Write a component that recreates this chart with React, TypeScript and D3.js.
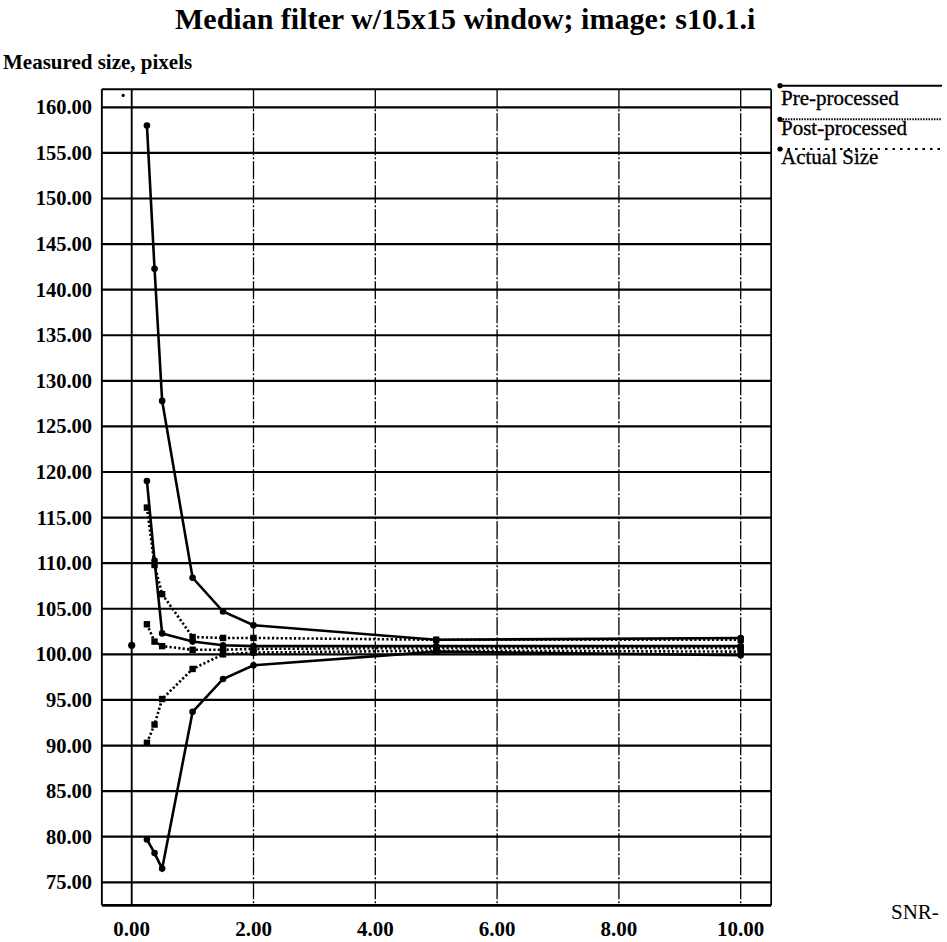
import React from "react";
import * as d3 from "d3";

const titleText = "Median filter w/15x15 window; image: s10.1.i";
const yAxisTitle = "Measured size, pixels";
const xAxisTitle = "SNR";
const legendLabels = ["Pre-processed", "Post-processed", "Actual Size"];

const xTicks = [0, 2, 4, 6, 8, 10];
const yTicks = [75, 80, 85, 90, 95, 100, 105, 110, 115, 120, 125, 130, 135, 140, 145, 150, 155, 160];

// Pre-processed (solid)
const preUpperSnr = [0.25, 0.375, 0.5, 1.0, 1.5, 2.0, 5.0, 10.0];
const preUpperSize = [158.0, 142.3, 127.8, 108.4, 104.7, 103.2, 101.6, 101.8];
const preMiddleSnr = [0.25, 0.375, 0.5, 1.0, 1.5, 2.0, 5.0, 10.0];
const preMiddleSize = [119.0, 110.3, 102.3, 101.4, 101.0, 100.9, 100.9, 100.9];
const preLowerSnr = [0.25, 0.375, 0.5, 1.0, 1.5, 2.0, 5.0, 10.0];
const preLowerSize = [79.7, 78.2, 76.5, 93.7, 97.3, 98.8, 100.3, 99.9];

// Post-processed (dotted)
const postUpperSnr = [0.25, 0.375, 0.5, 1.0, 1.5, 2.0, 5.0, 10.0];
const postUpperSize = [116.1, 109.8, 106.6, 101.9, 101.8, 101.8, 101.6, 101.6];
const postMiddleSnr = [0.25, 0.375, 0.5, 1.0, 1.5, 2.0, 5.0, 10.0];
const postMiddleSize = [103.3, 101.4, 100.9, 100.5, 100.5, 100.6, 100.7, 100.7];
const postLowerSnr = [0.25, 0.375, 0.5, 1.0, 1.5, 2.0, 5.0, 10.0];
const postLowerSize = [90.3, 92.3, 95.1, 98.4, 100.0, 100.2, 100.4, 100.3];

// Actual size
const actualSnr = [0.0];
const actualSize = [101.0];

// stray speck in the plot corner
const speckSnr = [-0.14];
const speckSize = [161.3];

const W = 947;
const H = 942;
const x = d3.scaleLinear().domain([0, 10]).range([131.7, 740.7]);
const y = d3.scaleLinear().domain([75, 160]).range([882.3, 107.3]);
const xMin = -0.49;
const xMax = 10.5;
const yMin = 72.48;
const yMax = 161.97;

type Pt = [number, number];
const zip = (a: number[], b: number[]): Pt[] => a.map((v, i) => [v, b[i]] as Pt);

const preSeries = [
  zip(preUpperSnr, preUpperSize),
  zip(preMiddleSnr, preMiddleSize),
  zip(preLowerSnr, preLowerSize),
];
const postSeries = [
  zip(postUpperSnr, postUpperSize),
  zip(postMiddleSnr, postMiddleSize),
  zip(postLowerSnr, postLowerSize),
];
const actualSeries = zip(actualSnr, actualSize);
const speck = zip(speckSnr, speckSize);

const line = d3
  .line<Pt>()
  .x((d) => x(d[0]))
  .y((d) => y(d[1]));

const FONT = "'Liberation Serif', 'DejaVu Serif', serif";

export default function App() {
  const left = x(xMin);
  const right = x(xMax);
  const top = y(yMax);
  const bottom = y(yMin);
  const legendX0 = 780;
  const legendX1 = 942;
  const legendYs = [85.7, 119.3, 149];
  const legendTextYs = [105, 135, 164];

  return (
    <svg
      width={W}
      height={H}
      style={{ position: "absolute", left: 0, top: 0, background: "#fff" }}
      fontFamily={FONT}
    >
      <rect x={0} y={0} width={W} height={H} fill="#fff" />
      {/* title */}
      <text x={175} y={29} fontSize={30} fontWeight="bold" fill="#000">
        {titleText}
      </text>
      <text x={3} y={69} fontSize={21} fontWeight="bold" fill="#000">
        {yAxisTitle}
      </text>

      {/* horizontal grid lines */}
      {yTicks.map((t) => (
        <line key={"h" + t} x1={left} x2={right} y1={y(t)} y2={y(t)} stroke="#000" strokeWidth={2.2} />
      ))}
      {/* vertical grid lines */}
      {xTicks.map((t) => (
        <line
          key={"v" + t}
          x1={x(t)}
          x2={x(t)}
          y1={top}
          y2={bottom}
          stroke="#000"
          strokeWidth={t === 0 ? 1.9 : 1.3}
          strokeDasharray={t === 0 ? undefined : "18 2 2 2"}
        />
      ))}
      {/* frame */}
      <line x1={left} x2={right} y1={top} y2={top} stroke="#000" strokeWidth={2} />
      <line x1={left} x2={right} y1={bottom} y2={bottom} stroke="#000" strokeWidth={2.8} />
      <line x1={left} x2={left} y1={top} y2={bottom} stroke="#000" strokeWidth={1.9} />
      <line x1={right} x2={right} y1={top} y2={bottom} stroke="#000" strokeWidth={1.7} />

      {/* y tick labels */}
      {yTicks.map((t) => (
        <text
          key={"yl" + t}
          x={92}
          y={y(t) + 7}
          textAnchor="end"
          fontSize={20.5}
          fontWeight="bold"
          fill="#000"
        >
          {t.toFixed(2)}
        </text>
      ))}
      {/* x tick labels */}
      {xTicks.map((t) => (
        <text
          key={"xl" + t}
          x={x(t)}
          y={936}
          textAnchor="middle"
          fontSize={21}
          fontWeight="bold"
          fill="#000"
        >
          {t.toFixed(2)}
        </text>
      ))}
      <text x={891} y={919} fontSize={21} fill="#000">
        {xAxisTitle + "-"}
      </text>

      {/* post-processed lines */}
      {postSeries.map((s, i) => (
        <g key={"post" + i}>
          <path d={line(s) || ""} fill="none" stroke="#000" strokeWidth={2.6} strokeDasharray="2.2 2.2" />
          {s.map((p, j) => (
            <rect key={j} x={x(p[0]) - 3.2} y={y(p[1]) - 3.2} width={6.4} height={6.4} fill="#000" />
          ))}
        </g>
      ))}
      {/* pre-processed lines */}
      {preSeries.map((s, i) => (
        <g key={"pre" + i}>
          <path d={line(s) || ""} fill="none" stroke="#000" strokeWidth={2.6} />
          {s.map((p, j) => (
            <circle key={j} cx={x(p[0])} cy={y(p[1])} r={3.3} fill="#000" />
          ))}
        </g>
      ))}
      {/* actual size */}
      {actualSeries.map((p, j) => (
        <circle key={"a" + j} cx={x(p[0])} cy={y(p[1])} r={3.6} fill="#000" />
      ))}
      {speck.map((p, j) => (
        <circle key={"s" + j} cx={x(p[0])} cy={y(p[1])} r={1.6} fill="#000" />
      ))}

      {/* legend */}
      <line x1={legendX0} x2={legendX1} y1={legendYs[0]} y2={legendYs[0]} stroke="#000" strokeWidth={2} />
      <line x1={legendX0} x2={legendX1} y1={legendYs[1]} y2={legendYs[1]} stroke="#000" strokeWidth={2} strokeDasharray="1.5 1.2" />
      <line x1={legendX0} x2={legendX1} y1={legendYs[2]} y2={legendYs[2]} stroke="#000" strokeWidth={2} strokeDasharray="2.5 5" />
      {legendYs.map((ly, i) => (
        <circle key={"ld" + i} cx={legendX0} cy={ly} r={2.6} fill="#000" />
      ))}
      {legendLabels.map((lab, i) => (
        <text
          key={"lt" + i}
          x={781}
          y={legendTextYs[i]}
          fontSize={21}
          fill="#000"
          stroke="#000"
          strokeWidth={0.35}
        >
          {lab}
        </text>
      ))}
    </svg>
  );
}
